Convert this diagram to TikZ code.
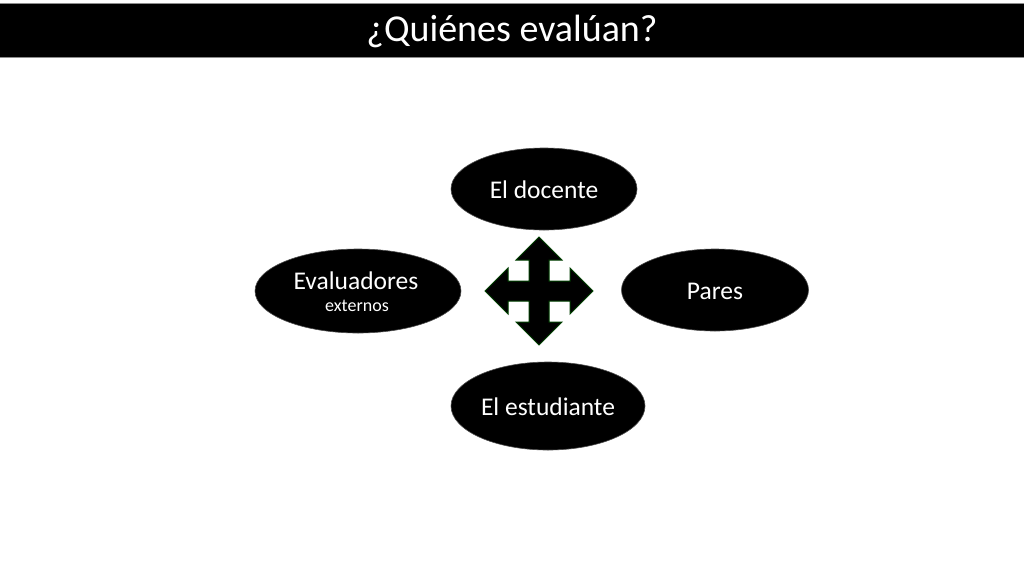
\documentclass[tikz,border=0pt]{standalone}
\usepackage{fontspec}
\setmainfont{Carlito}
\usetikzlibrary{shapes.geometric}
\begin{document}
\begin{tikzpicture}[x=1pt,y=-1pt,
  oval/.style={ellipse, fill=black, draw=black!70, line width=0.6pt, inner sep=0pt},
  lbl/.style={text=white, inner sep=0pt, font=\fontsize{25.5}{28}\selectfont},
  small/.style={text=white, inner sep=0pt, font=\fontsize{18}{20}\selectfont}]
\useasboundingbox (0,0) rectangle (1024,576);
\fill[white] (0,0) rectangle (1024,576);
\node[fill=black, draw=black!45, line width=1pt, minimum width=1026pt, minimum height=54pt, inner sep=0pt, anchor=north west] (bar) at (-1,3) {};
\node[text=white, font=\fontsize{38}{40}\selectfont, anchor=center] (title) at (512,31) {¿Quiénes evalúan?};
\node[oval, minimum width=186pt, minimum height=82pt] (doc) at (544,189) {};
\node[lbl] (doct) at (544,190) {El docente};
\node[oval, minimum width=206pt, minimum height=84pt] (eval) at (358,291) {};
\node[lbl] (evalt) at (356,281) {Evaluadores};
\node[small] (evalt2) at (357,306) {externos};
\node[oval, minimum width=187pt, minimum height=82pt] (par) at (715,290) {};
\node[lbl] (part) at (715,291) {Pares};
\node[oval, minimum width=194pt, minimum height=88pt] (est) at (548,406) {};
\node[lbl] (estt) at (548,407) {El estudiante};
\begin{scope}[shift={(539,291)}]
\def\Lq{54}\def\Bq{31}\def\Hq{23}\def\Sq{10}
\filldraw[fill=black, draw=green!25!black, line width=1pt, line join=miter]
  (0,-\Lq) -- (\Hq,-\Bq) -- (\Sq,-\Bq) -- (\Sq,-\Sq) -- (\Bq,-\Sq) -- (\Bq,-\Hq) -- (\Lq,0)
  -- (\Bq,\Hq) -- (\Bq,\Sq) -- (\Sq,\Sq) -- (\Sq,\Bq) -- (\Hq,\Bq) -- (0,\Lq)
  -- (-\Hq,\Bq) -- (-\Sq,\Bq) -- (-\Sq,\Sq) -- (-\Bq,\Sq) -- (-\Bq,\Hq) -- (-\Lq,0)
  -- (-\Bq,-\Hq) -- (-\Bq,-\Sq) -- (-\Sq,-\Sq) -- (-\Sq,-\Bq) -- (-\Hq,-\Bq) -- cycle;
\end{scope}
\end{tikzpicture}
\end{document}
